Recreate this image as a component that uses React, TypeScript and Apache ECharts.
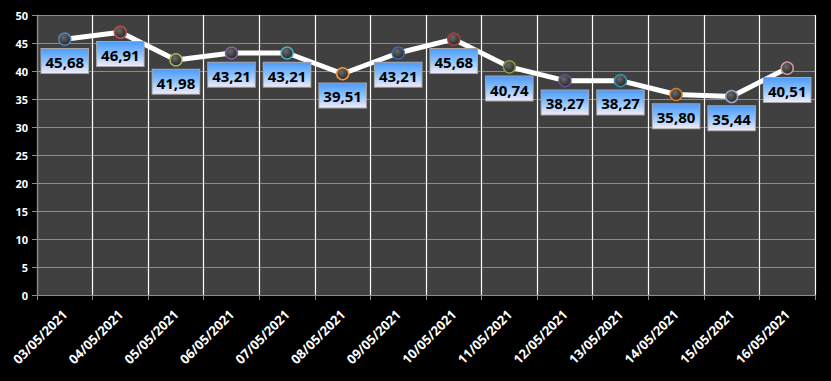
import React, { useEffect, useRef } from "react";
import * as echarts from "echarts";

const categories = [
  "03/05/2021", "04/05/2021", "05/05/2021", "06/05/2021", "07/05/2021",
  "08/05/2021", "09/05/2021", "10/05/2021", "11/05/2021", "12/05/2021",
  "13/05/2021", "14/05/2021", "15/05/2021", "16/05/2021",
];
const values = [45.68, 46.91, 41.98, 43.21, 43.21, 39.51, 43.21, 45.68, 40.74, 38.27, 38.27, 35.8, 35.44, 40.51];
const markerColors = [
  "#4F81BD", "#C0504D", "#9BBB59", "#8064A2", "#4BACC6", "#F79646",
  "#3A6AA8", "#A53F3C", "#7FA040", "#654E88", "#3390AA", "#D97A2C",
  "#8FA8CC", "#CC9A98",
];

export default function App() {
  const ref = useRef<HTMLDivElement>(null);
  useEffect(() => {
    const chart = echarts.init(ref.current!, null, { renderer: "svg" });
    const data = values.map((v, i) => ({
      value: v,
      itemStyle: {
        color: new echarts.graphic.RadialGradient(0.4, 0.35, 0.7, [
          { offset: 0, color: "#6a6a6a" },
          { offset: 1, color: "#222222" },
        ]),
        borderColor: markerColors[i],
        borderWidth: 1.5,
      },
    }));
    chart.setOption({
      animation: false,
      backgroundColor: "#000000",
      grid: {
        left: 37,
        right: 16,
        top: 15,
        bottom: 86,
        show: true,
        backgroundColor: "#404040",
        borderWidth: 0,
      },
      xAxis: {
        type: "category",
        data: categories,
        boundaryGap: true,
        axisLine: { lineStyle: { color: "#8c8c8c", width: 1 } },
        axisTick: { show: true, interval: 0, length: 5, lineStyle: { color: "#8c8c8c" } },
        axisLabel: {
          interval: 0,
          rotate: 45,
          color: "#ffffff",
          fontWeight: "bold",
          fontSize: 13,
          fontFamily: "Open Sans",
          margin: 17,
        },
        splitLine: { show: true, interval: 0, lineStyle: { color: "#ffffff", width: 1.2 } },
      },
      yAxis: {
        type: "value",
        min: 0,
        max: 50,
        interval: 5,
        axisLine: { show: true, lineStyle: { color: "#8c8c8c" } },
        axisTick: { show: true, length: 5, lineStyle: { color: "#8c8c8c" } },
        axisLabel: {
          color: "#ffffff",
          fontWeight: "bold",
          fontSize: 11,
          fontFamily: "Open Sans",
          margin: 9,
        },
        splitLine: { show: true, lineStyle: { color: "#8c8c8c", width: 1 } },
      },
      series: [
        {
          type: "line",
          data,
          symbol: "circle",
          symbolSize: 12,
          lineStyle: { color: "#ffffff", width: 5 },
          z: 3,
          label: {
            show: true,
            position: "bottom",
            distance: 3,
            formatter: (p: any) => p.value.toFixed(2).replace(".", ","),
            color: "#000000",
            fontWeight: "bold",
            fontSize: 15,
            fontFamily: "Open Sans",
            lineHeight: 18,
            padding: [4, 4, 2, 4],
            borderColor: "#a6a6a6",
            borderWidth: 1,
            backgroundColor: new echarts.graphic.LinearGradient(0, 0, 0, 1, [
              { offset: 0, color: "#4d9bfa" },
              { offset: 0.5, color: "#8cc2fb" },
              { offset: 1, color: "#f0eaf8" },
            ]),
          },
        },
      ],
    });
    return () => chart.dispose();
  }, []);
  return <div ref={ref} style={{ width: 831, height: 381, position: "absolute", left: 0, top: 0 }} />;
}
